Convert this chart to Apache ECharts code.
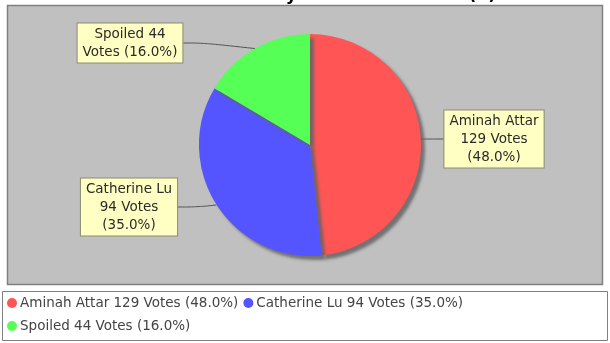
<!DOCTYPE html>
<html>
<head>
<meta charset="utf-8">
<style>
  html, body { margin: 0; padding: 0; background: #ffffff; }
  #chart { width: 610px; height: 343px; }
</style>
<script src="https://cdn.jsdelivr.net/npm/echarts@6/dist/echarts.min.js"></script>
</head>
<body>
<div id="chart"></div>
<script>
// Vote counts per candidate
const candidates = ['Aminah Attar', 'Catherine Lu', 'Spoiled'];
const votes = [129, 94, 44];
const sliceColors = ['#ff5555', '#5555ff', '#55ff55'];
const chartTitle = 'Election Results by Candidate Totals (2)';

// Label box centres (left/right label columns)
const labelCentres = [[494, 139], [129, 207], [130, 43]];

const total = votes.reduce((a, b) => a + b, 0);
// Percent shown truncated to a whole number, one decimal place
const pct = v => Math.floor(v / total * 100).toFixed(1);
const fullText = (name, v) => name + ' ' + v + ' Votes (' + pct(v) + '%)';

// Simple word wrap for the callout labels
function wrap(text, maxChars) {
  const words = text.split(' ');
  const lines = [];
  let cur = '';
  words.forEach(w => {
    const next = cur ? cur + ' ' + w : w;
    if (next.length > maxChars && cur) { lines.push(cur); cur = w; }
    else cur = next;
  });
  if (cur) lines.push(cur);
  return lines.join('\n');
}

const chart = echarts.init(document.getElementById('chart'), null, { renderer: 'canvas' });

chart.setOption({
  animation: false,
  backgroundColor: '#ffffff',
  title: {
    text: chartTitle,
    left: 'center',
    top: -13,
    padding: 0,
    textStyle: { fontFamily: 'DejaVu Sans', fontSize: 17, fontWeight: 'bold', color: '#000' }
  },
  graphic: [
    {
      type: 'rect', z: -10,
      shape: { x: 7.5, y: 5.5, width: 595, height: 279 },
      style: { fill: '#c0c0c0', stroke: '#808080', lineWidth: 1.5 }
    },
    {
      type: 'rect', z: -10,
      shape: { x: 2.5, y: 291.5, width: 605, height: 49 },
      style: { fill: '#ffffff', stroke: '#808080', lineWidth: 1 }
    }
  ],
  legend: {
    orient: 'horizontal',
    left: 7,
    top: 294,
    width: 460,
    itemWidth: 10,
    itemHeight: 10,
    itemGap: 5,
    icon: 'circle',
    padding: 0,
    textStyle: { fontFamily: 'DejaVu Sans', fontSize: 13.5, color: '#444', lineHeight: 18, padding: [0, 0, 0, -2] },
    formatter: name => fullText(name, votes[candidates.indexOf(name)])
  },
  series: [{
    type: 'pie',
    center: [310, 145],
    radius: 111,
    startAngle: 90,
    clockwise: true,
    avoidLabelOverlap: false,
    data: candidates.map((c, i) => ({ name: c, value: votes[i], itemStyle: { color: sliceColors[i] } })),
    itemStyle: {
      borderWidth: 0,
      shadowColor: 'rgba(100,100,100,0.85)',
      shadowBlur: 3,
      shadowOffsetX: 4,
      shadowOffsetY: 4
    },
    emphasis: { disabled: true },
    label: {
      show: true,
      position: 'outside',
      formatter: p => wrap(fullText(p.name, p.value), 13),
      fontFamily: 'DejaVu Sans',
      fontSize: 13.5,
      lineHeight: 18,
      color: '#2a2a2a',
      align: 'center',
      backgroundColor: '#ffffc4',
      borderColor: '#8a8a70',
      borderWidth: 1,
      padding: [2, 5, 1, 5]
    },
    labelLine: {
      show: true,
      length: 10,
      length2: 20,
      smooth: 0.4,
      lineStyle: { color: '#555', width: 1 }
    },
    labelLayout: p => ({
      x: labelCentres[p.dataIndex][0],
      y: labelCentres[p.dataIndex][1],
      align: 'center',
      verticalAlign: 'middle'
    })
  }]
});
</script>
</body>
</html>
